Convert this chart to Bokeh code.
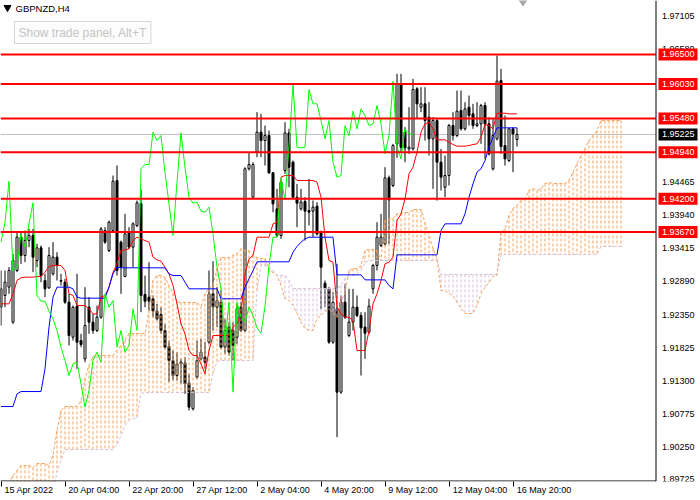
import numpy as np
from bokeh.plotting import figure
from bokeh.models import (Range1d, LinearAxis, FixedTicker, Label, ColumnDataSource)
from bokeh.core.properties import value
from bokeh.embed import file_html
from bokeh.resources import INLINE

# ---------------- data (GBPNZD, H4) ----------------
bar_open = [
    1.92472, 1.92658, 1.92791, 1.92233, 1.93056, 1.93587, 1.93295, 1.93534, 1.93614, 1.93216,
    1.93417, 1.92897, 1.92780, 1.93003, 1.93269, 1.92897, 1.92870, 1.92551, 1.91993, 1.92487,
    1.91940, 1.91648, 1.92472, 1.92233, 1.92100, 1.92312, 1.93694, 1.93375, 1.93694, 1.94491,
    1.93508, 1.92960, 1.93667, 1.93428, 1.93773, 1.94119, 1.92674, 1.92631, 1.92605, 1.92408,
    1.92355, 1.92100, 1.91845, 1.91621, 1.91382, 1.91568, 1.91579, 1.91260, 1.90851, 1.91356,
    1.91648, 1.91675, 1.91914, 1.92684, 1.92472, 1.92551, 1.91834, 1.92153, 1.92100, 1.91993,
    1.92472, 1.92100, 1.94677, 1.94225, 1.94942, 1.95261, 1.95128, 1.95208, 1.94613, 1.94039,
    1.93614, 1.94650, 1.95250, 1.94783, 1.94225, 1.94039, 1.94156, 1.94012, 1.94002, 1.94081,
    1.93651, 1.92854, 1.92764, 1.91914, 1.92445, 1.91117, 1.92551, 1.92020, 1.92233, 1.92472,
    1.92339, 1.92153, 1.92073, 1.92764, 1.93136, 1.93455, 1.93481, 1.94533, 1.94411, 1.95075,
    1.96031, 1.95261, 1.94995, 1.94995, 1.95952, 1.95659, 1.95713, 1.95500, 1.95155, 1.95447,
    1.94783, 1.94384, 1.94570, 1.95367, 1.95208, 1.95606, 1.95314, 1.95659, 1.95553, 1.95367,
    1.95394, 1.95686, 1.95394, 1.94677, 1.95155, 1.96084, 1.95048, 1.94809, 1.95314, 1.95144]
bar_high = [
    1.93056, 1.93056, 1.93109, 1.93322, 1.93667, 1.93667, 1.93694, 1.93720, 1.93720, 1.93481,
    1.93455, 1.93003, 1.93428, 1.93508, 1.93348, 1.93003, 1.92923, 1.92684, 1.92498, 1.93003,
    1.92047, 1.92791, 1.92631, 1.92365, 1.92498, 1.93747, 1.93747, 1.93853, 1.94570, 1.94730,
    1.93534, 1.93959, 1.93747, 1.93826, 1.94172, 1.94347, 1.92976, 1.93189, 1.92658, 1.92525,
    1.92472, 1.92206, 1.91940, 1.91781, 1.91754, 1.91648, 1.91675, 1.91409, 1.91196, 1.91940,
    1.91967, 1.91914, 1.93056, 1.93205, 1.92791, 1.92737, 1.92286, 1.92233, 1.92233, 1.92525,
    1.92551, 1.94703, 1.94942, 1.94783, 1.95580, 1.95553, 1.95367, 1.95287, 1.94624, 1.94358,
    1.94491, 1.95420, 1.95314, 1.94809, 1.94437, 1.94358, 1.94225, 1.94517, 1.94172, 1.94145,
    1.93694, 1.92897, 1.92791, 1.92711, 1.93162, 1.92658, 1.92844, 1.92764, 1.92764, 1.92658,
    1.92392, 1.92392, 1.92605, 1.93162, 1.93826, 1.93959, 1.94703, 1.94570, 1.95075, 1.96191,
    1.96191, 1.95341, 1.95659, 1.96111, 1.95978, 1.95978, 1.95978, 1.95739, 1.95500, 1.95489,
    1.94995, 1.94889, 1.95394, 1.95580, 1.95925, 1.95925, 1.95739, 1.95845, 1.95713, 1.95739,
    1.95713, 1.95739, 1.95500, 1.95473, 1.96483, 1.96270, 1.95527, 1.95330, 1.95341, 1.95330]
bar_low = [
    1.92179, 1.92472, 1.92684, 1.92206, 1.93030, 1.93162, 1.93189, 1.93428, 1.93030, 1.93109,
    1.92870, 1.92631, 1.92764, 1.92976, 1.92897, 1.92817, 1.92525, 1.91861, 1.91940, 1.91489,
    1.91834, 1.91595, 1.92047, 1.92047, 1.92073, 1.92286, 1.93481, 1.93348, 1.93667, 1.92976,
    1.92684, 1.92950, 1.93401, 1.93109, 1.93747, 1.92392, 1.92472, 1.92418, 1.92312, 1.92259,
    1.92047, 1.91808, 1.91276, 1.91303, 1.91303, 1.91250, 1.91090, 1.90825, 1.90825, 1.91329,
    1.91621, 1.91489, 1.91887, 1.92100, 1.92153, 1.91808, 1.91728, 1.91701, 1.91621, 1.91887,
    1.92073, 1.92073, 1.94650, 1.94214, 1.94863, 1.94863, 1.94730, 1.94597, 1.93986, 1.93587,
    1.93561, 1.94597, 1.94384, 1.94198, 1.93747, 1.94012, 1.93534, 1.93773, 1.93587, 1.93614,
    1.92445, 1.92472, 1.91887, 1.91887, 1.90400, 1.91090, 1.92286, 1.91993, 1.92100, 1.92312,
    1.91382, 1.91648, 1.92047, 1.92684, 1.93056, 1.93428, 1.93455, 1.93481, 1.94384, 1.94852,
    1.94942, 1.94783, 1.94916, 1.94969, 1.95473, 1.95580, 1.95128, 1.94889, 1.94358, 1.94172,
    1.94331, 1.94225, 1.94411, 1.95128, 1.95181, 1.95287, 1.95287, 1.95367, 1.95314, 1.95341,
    1.95075, 1.94836, 1.94889, 1.94650, 1.95128, 1.94916, 1.94730, 1.94783, 1.94624, 1.95032]
bar_close = [
    1.92764, 1.92870, 1.93056, 1.93216, 1.93587, 1.93295, 1.93534, 1.93614, 1.93269, 1.93417,
    1.92976, 1.92764, 1.93295, 1.93269, 1.93136, 1.92886, 1.92551, 1.92020, 1.92472, 1.91914,
    1.91877, 1.92179, 1.92233, 1.92100, 1.92312, 1.93720, 1.93508, 1.93826, 1.94480, 1.93056,
    1.93109, 1.93640, 1.93428, 1.93800, 1.94135, 1.92658, 1.92567, 1.92567, 1.92408, 1.92286,
    1.92100, 1.91834, 1.91621, 1.91382, 1.91568, 1.91595, 1.91250, 1.90878, 1.91143, 1.91621,
    1.91754, 1.91595, 1.92684, 1.92472, 1.92578, 1.91834, 1.92100, 1.91754, 1.91861, 1.92445,
    1.92100, 1.94677, 1.94746, 1.94746, 1.95261, 1.95128, 1.95208, 1.94613, 1.94119, 1.93614,
    1.94464, 1.95250, 1.94703, 1.94225, 1.94129, 1.94145, 1.94002, 1.93986, 1.94066, 1.93640,
    1.93109, 1.92764, 1.91914, 1.92551, 1.91117, 1.92551, 1.92312, 1.92233, 1.92472, 1.92339,
    1.92142, 1.92057, 1.92487, 1.93136, 1.93587, 1.93587, 1.94533, 1.94182, 1.95048, 1.96021,
    1.95022, 1.95011, 1.95022, 1.95941, 1.95713, 1.95713, 1.95447, 1.95155, 1.95447, 1.94783,
    1.94544, 1.94570, 1.95367, 1.95208, 1.95596, 1.95314, 1.95633, 1.95527, 1.95367, 1.95394,
    1.95686, 1.95394, 1.94916, 1.95208, 1.96074, 1.95032, 1.94836, 1.95314, 1.95234, 1.95225]

# Ichimoku lines as drawn on the chart
tenkan_sen = [
    1.92525, 1.92525, 1.92525, 1.92684, 1.92897, 1.92939, 1.92950, 1.92950, 1.92950, 1.92960,
    1.92960, 1.93030, 1.93120, 1.93136, 1.93136, 1.93136, 1.93056, 1.92684, 1.92658, 1.92498,
    1.92498, 1.92498, 1.92445, 1.92365, 1.92365, 1.92631, 1.92658, 1.92791, 1.93030, 1.93162,
    1.93375, 1.93385, 1.93401, 1.93534, 1.93587, 1.93561, 1.93534, 1.93508, 1.93269, 1.93226,
    1.93205, 1.93109, 1.93003, 1.92817, 1.92525, 1.92206, 1.92047, 1.91781, 1.91701, 1.91701,
    1.91568, 1.91409, 1.91781, 1.92020, 1.92020, 1.92020, 1.92020, 1.92020, 1.92153, 1.92206,
    1.92365, 1.93003, 1.93242, 1.93295, 1.93587, 1.93587, 1.93587, 1.93587, 1.93800, 1.93826,
    1.94544, 1.94570, 1.94570, 1.94570, 1.94491, 1.94491, 1.94491, 1.94491, 1.94491, 1.94464,
    1.94225, 1.93587, 1.93216, 1.93189, 1.92472, 1.92365, 1.92312, 1.92312, 1.92259, 1.91781,
    1.91781, 1.91781, 1.92100, 1.92525, 1.92684, 1.92897, 1.93162, 1.93189, 1.93269, 1.93853,
    1.93959, 1.94198, 1.94597, 1.94703, 1.94942, 1.95261, 1.95394, 1.95420, 1.95314, 1.95139,
    1.95139, 1.95139, 1.95102, 1.95064, 1.95038, 1.95038, 1.95038, 1.95048, 1.95064, 1.95075,
    1.95181, 1.95383, 1.95367, 1.95314, 1.95564, 1.95564, 1.95564, 1.95553, 1.95553, 1.95553]
kijun_sen = [
    1.90888, 1.90888, 1.90888, 1.90888, 1.91090, 1.91127, 1.91127, 1.91127, 1.91127, 1.91127,
    1.91127, 1.91489, 1.92153, 1.92631, 1.92791, 1.92791, 1.92791, 1.92791, 1.92764, 1.92631,
    1.92615, 1.92615, 1.92615, 1.92615, 1.92615, 1.92615, 1.92615, 1.92791, 1.93003, 1.93109,
    1.93099, 1.93099, 1.93099, 1.93099, 1.93099, 1.93099, 1.93099, 1.93099, 1.93099, 1.93099,
    1.93099, 1.93099, 1.93003, 1.92976, 1.92976, 1.92976, 1.92870, 1.92764, 1.92764, 1.92764,
    1.92764, 1.92764, 1.92764, 1.92764, 1.92764, 1.92605, 1.92605, 1.92605, 1.92605, 1.92605,
    1.92605, 1.92791, 1.92923, 1.93056, 1.93195, 1.93195, 1.93195, 1.93195, 1.93195, 1.93195,
    1.93195, 1.93195, 1.93195, 1.93348, 1.93439, 1.93508, 1.93561, 1.93587, 1.93587, 1.93587,
    1.93587, 1.93587, 1.93587, 1.93587, 1.92987, 1.92987, 1.92987, 1.92987, 1.92987, 1.92987,
    1.92987, 1.92907, 1.92907, 1.92907, 1.92907, 1.92907, 1.92907, 1.92817, 1.92764, 1.93306,
    1.93306, 1.93306, 1.93306, 1.93306, 1.93306, 1.93306, 1.93306, 1.93306, 1.93306, 1.93306,
    1.93694, 1.93800, 1.93800, 1.93800, 1.93800, 1.93800, 1.93959, 1.94225, 1.94437, 1.94624,
    1.94677, 1.94809, 1.95022, 1.95181, 1.95330, 1.95330, 1.95330, 1.95330, 1.95330, 1.95330]
# Senkou spans as displayed (already shifted 26 bars forward): bars 0..155
senkou_span_a = [
    1.89550, 1.89582, 1.89677, 1.89789, 1.89869, 1.89948, 1.89948, 1.89948, 1.89916, 1.89980,
    1.89980, 1.89980, 1.89948, 1.90108, 1.90506, 1.90825, 1.90889, 1.90889, 1.90889, 1.90889,
    1.90984, 1.91335, 1.91542, 1.91686, 1.91702, 1.91702, 1.91702, 1.91702, 1.91702, 1.91781,
    1.91861, 1.91941, 1.92052, 1.92052, 1.92052, 1.92052, 1.92052, 1.92419, 1.92897, 1.92977,
    1.92977, 1.92945, 1.92817, 1.92690, 1.92562, 1.92546, 1.92546, 1.92546, 1.92546, 1.92546,
    1.92483, 1.92690, 1.92770, 1.92817, 1.93088, 1.93264, 1.93264, 1.93264, 1.93295, 1.93327,
    1.93407, 1.93375, 1.93375, 1.93295, 1.93264, 1.93248, 1.93248, 1.93056, 1.93025, 1.92977,
    1.92817, 1.92610, 1.92578, 1.92498, 1.92371, 1.92228, 1.92132, 1.92100, 1.92100, 1.92291,
    1.92339, 1.92403, 1.92435, 1.92387, 1.92307, 1.92578, 1.92690, 1.93056, 1.93088, 1.93088,
    1.93136, 1.93375, 1.93391, 1.93391, 1.93375, 1.93216, 1.93853, 1.93885, 1.93885, 1.93965,
    1.93965, 1.93981, 1.93981, 1.94029, 1.94029, 1.94029, 1.93822, 1.93614, 1.93407, 1.93248,
    1.92738, 1.92738, 1.92690, 1.92658, 1.92546, 1.92451, 1.92371, 1.92371, 1.92371, 1.92498,
    1.92690, 1.92785, 1.92865, 1.92961, 1.92977, 1.93662, 1.93726, 1.93933, 1.94045, 1.94092,
    1.94172, 1.94204, 1.94332, 1.94363, 1.94332, 1.94363, 1.94443, 1.94459, 1.94443, 1.94443,
    1.94443, 1.94443, 1.94491, 1.94618, 1.94762, 1.94889, 1.95001, 1.95129, 1.95208, 1.95288,
    1.95447, 1.95447, 1.95447, 1.95447, 1.95447, 1.95447]
senkou_span_b = [
    1.89550, 1.89550, 1.89550, 1.89550, 1.89550, 1.89550, 1.89550, 1.89550, 1.89550, 1.89550,
    1.89550, 1.89550, 1.89550, 1.89550, 1.89837, 1.90028, 1.90203, 1.90203, 1.90203, 1.90203,
    1.90203, 1.90203, 1.90203, 1.90203, 1.90203, 1.90203, 1.90203, 1.90203, 1.90203, 1.90283,
    1.90426, 1.90586, 1.90666, 1.90698, 1.90698, 1.91096, 1.91112, 1.91112, 1.91112, 1.91112,
    1.91112, 1.91112, 1.91112, 1.91112, 1.91112, 1.91112, 1.91112, 1.91112, 1.91112, 1.91112,
    1.91112, 1.91112, 1.91112, 1.91415, 1.91606, 1.91622, 1.91622, 1.91622, 1.91622, 1.91622,
    1.91622, 1.91622, 1.91622, 1.91622, 1.92738, 1.93136, 1.93136, 1.93104, 1.93056, 1.92977,
    1.92977, 1.92977, 1.92897, 1.92770, 1.92770, 1.92770, 1.92770, 1.92770, 1.92770, 1.92770,
    1.92770, 1.92770, 1.92770, 1.92770, 1.92770, 1.92817, 1.92929, 1.92977, 1.92977, 1.93009,
    1.93056, 1.93184, 1.93216, 1.93216, 1.93216, 1.93216, 1.93216, 1.93216, 1.93216, 1.93216,
    1.93216, 1.93216, 1.93216, 1.93216, 1.93216, 1.93216, 1.93216, 1.93216, 1.93216, 1.93216,
    1.92993, 1.92993, 1.92993, 1.92993, 1.92993, 1.92993, 1.92993, 1.92993, 1.92993, 1.92993,
    1.92993, 1.92993, 1.92993, 1.92993, 1.92993, 1.93311, 1.93311, 1.93311, 1.93311, 1.93311,
    1.93311, 1.93311, 1.93311, 1.93311, 1.93311, 1.93311, 1.93311, 1.93311, 1.93311, 1.93311,
    1.93311, 1.93311, 1.93311, 1.93311, 1.93311, 1.93311, 1.93311, 1.93311, 1.93311, 1.93311,
    1.93439, 1.93439, 1.93439, 1.93439, 1.93439, 1.93439]
chikou_shift = 26

level_prices = [1.96500, 1.96030, 1.95480, 1.94940, 1.94200, 1.93670]
level_labels = ["1.96500", "1.96030", "1.95480", "1.94940", "1.94200", "1.93670"]
last_price = [1.95225]
last_label = ["1.95225"]

price_ticks = [1.97105, 1.96580, 1.94465, 1.93940, 1.93415, 1.92890, 1.92350,
               1.91825, 1.91300, 1.90775, 1.90250, 1.89725]
price_tick_labels = ["1.97105", "1.96580", "1.94465", "1.93940", "1.93415", "1.92890",
                     "1.92350", "1.91825", "1.91300", "1.90775", "1.90250", "1.89725"]
time_tick_bars = [0, 16, 32, 48, 64, 80, 96, 112, 128]
time_tick_labels = ["15 Apr 2022", "20 Apr 04:00", "22 Apr 20:00", "27 Apr 12:00",
                    "2 May 04:00", "4 May 20:00", "9 May 12:00", "12 May 04:00",
                    "16 May 20:00"]
symbol_title = "GBPNZD,H4"
panel_text = "Show trade panel, Alt+T"

# ---------------- layout ----------------
FONT = "Liberation Sans"
W, H = 700, 500
BOTTOM = 19
PX_PER_BAR = 4.0
X0 = -0.125
X1 = X0 + W / PX_PER_BAR
Y1 = 1.97360
Y0 = 1.89693
PX_PER_PRICE = (H - BOTTOM) / (Y1 - Y0)
AXIS_X = X0 + 655.5 / PX_PER_BAR          # price-scale border line
BOTTOM_Y = Y1 - 480.5 / PX_PER_PRICE      # time-scale border line

def sx(px):
    return X0 + px / PX_PER_BAR

def sy(py):
    return Y1 - py / PX_PER_PRICE

p = figure(width=W, height=H, output_backend="svg", toolbar_location=None,
           x_range=Range1d(X0, X1), y_range=Range1d(Y0, Y1),
           x_axis_location=None, y_axis_location=None,
           min_border_left=0, min_border_top=0, min_border_right=0,
           min_border_bottom=BOTTOM)
p.grid.visible = False
p.outline_line_color = None
p.background_fill_color = "white"
p.border_fill_color = "white"
p.styles = {"position": "absolute", "left": "0px", "top": "0px"}

# time axis: tick marks, then left-aligned labels (MT4 style)
ax_ticks = LinearAxis(ticker=FixedTicker(ticks=time_tick_bars),
                      axis_line_color=None, major_tick_line_color="black",
                      major_tick_in=0, major_tick_out=5, minor_tick_line_color=None,
                      major_label_text_font_size="1px", major_label_text_alpha=0,
                      major_label_standoff=0)
p.add_layout(ax_ticks, "below")

CW = {"0": .556, "1": .556, "2": .556, "3": .556, "4": .556, "5": .556, "6": .556,
      "7": .556, "8": .556, "9": .556, " ": .278, "A": .667, "p": .556, "r": .333,
      "M": .833, "a": .556, "y": .5, ":": .278}
def text_w(s, size=9.0):
    return sum(CW.get(ch, .556) for ch in s) * size

label_pos = []
for b, s in zip(time_tick_bars, time_tick_labels):
    off = (3.5 + text_w(s) / 2) / PX_PER_BAR
    label_pos.append(round((b + off) * 4) / 4)
overrides = {}
for pos, s in zip(label_pos, time_tick_labels):
    overrides[pos] = s
    overrides[str(pos)] = s
ax_lab = LinearAxis(ticker=FixedTicker(ticks=label_pos), axis_line_color=None,
                    major_tick_line_color=None, major_tick_in=0, major_tick_out=0,
                    minor_tick_line_color=None, major_label_overrides=overrides,
                    major_label_standoff=-2, major_label_text_font=FONT,
                    major_label_text_font_size="9px", major_label_text_color="black")
p.add_layout(ax_lab, "below")

# ---------------- marks ----------------
p.segment(x0=[X0], y0=last_price, x1=[AXIS_X], y1=last_price,
          line_color="#c0c0c0", line_width=1)

n = len(bar_open)
bars = np.arange(n)
o = np.array(bar_open); c = np.array(bar_close)
candles = ColumnDataSource(dict(
    x=bars, high=bar_high, low=bar_low,
    top=np.maximum(o, c), bottom=np.minimum(o, c),
    fill=["white" if cc > oo else "black" for oo, cc in zip(o, c)]))
p.segment(x0="x", y0="low", x1="x", y1="high", source=candles,
          line_color="black", line_width=1)
p.vbar(x="x", width=0.5, top="top", bottom="bottom", source=candles,
       fill_color="fill", line_color="black", line_width=1)

# Kumo (cloud) hatching: one dotted vertical line per bar
sa = np.array(senkou_span_a); sb = np.array(senkou_span_b)
cx = np.arange(len(sa))
up = sa >= sb
p.segment(x0=cx[up], y0=sa[up], x1=cx[up], y1=sb[up],
          line_color="#F4A460", line_width=1, line_dash="3 2")
p.segment(x0=cx[~up], y0=sb[~up], x1=cx[~up], y1=sa[~up],
          line_color="#D8BFD8", line_width=1, line_dash="3 2")
p.line(cx, sa, line_color="#F4A460", line_width=1, line_dash="3 2")
p.line(cx, sb, line_color="#D8BFD8", line_width=1, line_dash="3 2")

p.line(bars, tenkan_sen, line_color="#FF0000", line_width=1)
p.line(bars, kijun_sen, line_color="#0000FF", line_width=1)
p.line(bars[chikou_shift:] - chikou_shift, c[chikou_shift:],
       line_color="#00FF00", line_width=1)

# horizontal levels
p.segment(x0=[X0] * len(level_prices), y0=level_prices,
          x1=[AXIS_X] * len(level_prices), y1=level_prices,
          line_color="#FF0000", line_width=2)

# chart borders (price scale on the right, time scale at the bottom)
p.segment(x0=[AXIS_X], y0=[Y0], x1=[AXIS_X], y1=[Y1], line_color="black", line_width=1)
p.segment(x0=[X0], y0=[BOTTOM_Y], x1=[AXIS_X], y1=[BOTTOM_Y], line_color="black",
          line_width=1)

# price scale labels
TX = sx(661.5)
p.text(x=[TX] * len(price_ticks), y=price_ticks, text=price_tick_labels,
       text_font=value(FONT), text_font_size="9px", text_color="black",
       text_baseline="middle", text_align="left")
BX = sx(677.5)
p.rect(x=[BX] * len(level_prices), y=level_prices, width=39, height=12,
       width_units="screen", height_units="screen",
       fill_color="#FF0000", line_color=None)
p.text(x=[TX] * len(level_prices), y=level_prices, text=level_labels,
       text_font=value(FONT), text_font_size="9px", text_color="white",
       text_baseline="middle", text_align="left")
p.rect(x=[BX], y=last_price, width=39, height=12, width_units="screen",
       height_units="screen", fill_color="black", line_color=None)
p.text(x=[TX], y=last_price, text=last_label, text_font=value(FONT),
       text_font_size="9px", text_color="white", text_baseline="middle",
       text_align="left")

# top-left captions
p.scatter(x=[sx(7)], y=[sy(7)], marker="inverted_triangle", size=7,
          fill_color="black", line_color="black")
p.add_layout(Label(x=sx(15), y=sy(7.5), text=symbol_title, text_font=FONT,
                   text_font_size="9.5px", text_color="black",
                   text_baseline="middle", text_align="left"))
p.add_layout(Label(x=sx(14), y=sy(32), text=panel_text, text_font=FONT,
                   text_font_size="12px", text_color="#c4c4c4",
                   text_baseline="middle", text_align="left",
                   background_fill_color="#fcfcfc", border_line_color="#d6d6d6",
                   padding=4))
# chart-shift marker at the top
p.scatter(x=[sx(522.5)], y=[Y1], marker="diamond", size=11,
          fill_color="#a8a8a8", line_color="#a8a8a8")

open("out.html", "w").write(file_html(p, INLINE))
